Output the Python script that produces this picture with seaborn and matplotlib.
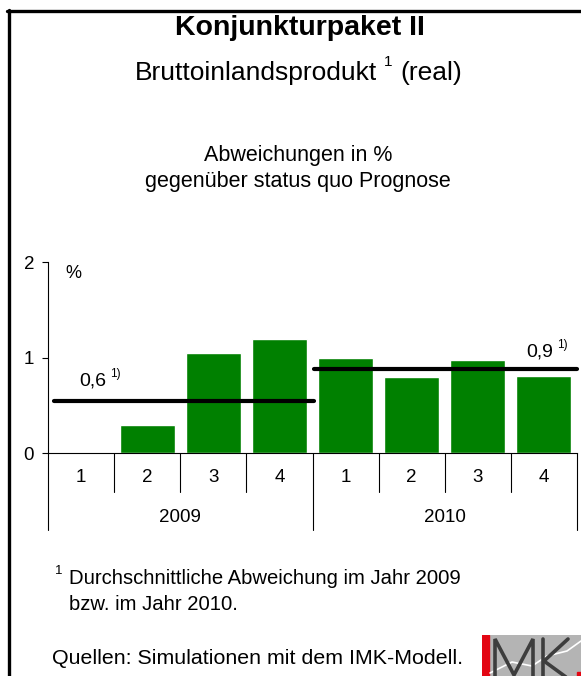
import matplotlib
matplotlib.use("Agg")
import matplotlib.pyplot as plt
import seaborn as sns
import pandas as pd
from matplotlib.lines import Line2D
from matplotlib.patches import Rectangle

# ---- data ----
years = ["2009", "2009", "2009", "2009", "2010", "2010", "2010", "2010"]
quarters = ["1", "2", "3", "4", "1", "2", "3", "4"]
values = [0.0, 0.29, 1.05, 1.19, 1.00, 0.80, 0.97, 0.81]
avg_years = ["2009", "2010"]
avg_values = [0.545, 0.88]
avg_labels = ["0,6", "0,9"]
yticks = [0, 1, 2]

sns.set_theme(style="white")
plt.rcParams["font.family"] = ["Liberation Sans", "DejaVu Sans"]
plt.rcParams["text.color"] = "black"
plt.rcParams["ytick.color"] = "black"
plt.rcParams["xtick.color"] = "black"

W, H = 581, 676
fig = plt.figure(figsize=(W / 100, H / 100), dpi=100)

def fx(px):
    return px / W

def fy(py):
    return 1 - py / H

ax_left, ax_right, ax_top, ax_bot = 48, 577, 262, 453
ax = fig.add_axes([fx(ax_left), fy(ax_bot), fx(ax_right - ax_left), (ax_bot - ax_top) / H])

df = pd.DataFrame({"pos": [f"{y}-{q}" for y, q in zip(years, quarters)], "value": values})
sns.barplot(data=df, x="pos", y="value", color="#008000", saturation=1, width=0.83, ax=ax)
ax.set_xlim(-0.5, 7.5)
ax.set_ylim(0, 2)
ax.set_yticks(yticks)
ax.set_yticklabels([str(t) for t in yticks], fontsize=13.5)
ax.tick_params(axis="y", left=True, length=4, width=0.8, color="black", pad=6)
ax.set_xticks([])
ax.set_xlabel("")
ax.set_ylabel("")
for s in ["top", "right"]:
    ax.spines[s].set_visible(False)
ax.spines["left"].set_color("black")
ax.spines["left"].set_linewidth(0.8)
ax.spines["bottom"].set_color("black")
ax.spines["bottom"].set_linewidth(0.8)

# average lines
starts = [-0.41, 3.53]
ends = [3.53, 7.5]
for yv, s, e in zip(avg_values, starts, ends):
    ax.plot([s, e], [yv, yv], color="black", lw=3, solid_capstyle="round", clip_on=False)

def px2data(px, py):
    x = (px - ax_left) / ((ax_right - ax_left) / 8) - 0.5
    y = (ax_bot - py) / ((ax_bot - ax_top) / 2)
    return x, y

x, y = px2data(79, 381)
ax.text(x, y, avg_labels[0], fontsize=14, ha="left", va="center")
x, y = px2data(110, 374)
ax.text(x, y, "1)", fontsize=8.5, ha="left", va="center")
x, y = px2data(526, 352)
ax.text(x, y, avg_labels[1], fontsize=14, ha="left", va="center")
x, y = px2data(557, 345)
ax.text(x, y, "1)", fontsize=8.5, ha="left", va="center")
x, y = px2data(73, 273)
ax.text(x, y, "%", fontsize=13, ha="center", va="center")

# category axis
trans = ax.get_xaxis_transform()
hpx = ax_bot - ax_top
row1 = -(492 - ax_bot) / hpx
row2 = -(530 - ax_bot) / hpx
for b in [0.5, 1.5, 2.5, 4.5, 5.5, 6.5]:
    ax.plot([b, b], [0, row1], color="black", lw=0.8, transform=trans, clip_on=False)
for b in [-0.5, 3.5, 7.5]:
    ax.plot([b, b], [0, row2], color="black", lw=0.8, transform=trans, clip_on=False)
for i, q in enumerate(quarters):
    ax.text(i, -(478 - ax_bot) / hpx, q, transform=trans, ha="center", va="center", fontsize=13.5)
for yr, c in zip(avg_years, [1.5, 5.5]):
    ax.text(c, -(518 - ax_bot) / hpx, yr, transform=trans, ha="center", va="center", fontsize=13.5)

# titles
fig.text(fx(300), fy(28), "Konjunkturpaket II", fontsize=20.5, fontweight="bold", ha="center", va="center")
fig.text(fx(377), fy(73), "Bruttoinlandsprodukt", fontsize=19, ha="right", va="center")
fig.text(fx(388), fy(62), "1", fontsize=11, ha="center", va="center")
fig.text(fx(400), fy(73), "(real)", fontsize=19, ha="left", va="center")
fig.text(fx(298), fy(155), "Abweichungen in %", fontsize=15.5, ha="center", va="center")
fig.text(fx(298), fy(181), "gegenüber status quo Prognose", fontsize=15.5, ha="center", va="center")

# footnotes
fig.text(fx(59), fy(571), "1", fontsize=9.5, ha="center", va="center")
fig.text(fx(69), fy(579), "Durchschnittliche Abweichung im Jahr 2009", fontsize=14.6, ha="left", va="center")
fig.text(fx(69), fy(604), "bzw. im Jahr 2010.", fontsize=14.6, ha="left", va="center")
fig.text(fx(52), fy(658), "Quellen: Simulationen mit dem IMK-Modell.", fontsize=15.4, ha="left", va="center")

# frame
fig.add_artist(Line2D([fx(8.5), fx(8.5)], [fy(10), 0], color="black", lw=2.4, transform=fig.transFigure))
fig.add_artist(Line2D([fx(7), 1], [fy(11), fy(11)], color="black", lw=2.4, transform=fig.transFigure))

# IMK logo
lx0, ly0 = 482, 635
lg = fig.add_axes([fx(lx0), 0, fx(W - lx0), (H - ly0) / H])
lg.set_xlim(0, W - lx0)
lg.set_ylim(H - ly0, 0)
lg.axis("off")
lg.add_patch(Rectangle((0, 0), W - lx0, H - ly0, color="#b4b4b4"))
lg.add_patch(Rectangle((0, 0), 7, H - ly0, color="#e30613"))
lg.plot([8, 30, 50, 65, 85, 99], [38, 27, 31, 21, 16, 6], color="white", lw=1.2)
gray = "#3d3d3d"
lg.plot([13, 13, 32, 51, 51], [45, 4, 40, 4, 45], color=gray, lw=2.6, solid_joinstyle="miter")
lg.plot([61, 61], [4, 45], color=gray, lw=2.6)
lg.plot([86, 62, 88], [4, 26, 45], color=gray, lw=2.6)
lg.add_patch(Rectangle((95, 37), 4, 5, color="#e30613"))

fig.savefig("out.png", dpi=100)
